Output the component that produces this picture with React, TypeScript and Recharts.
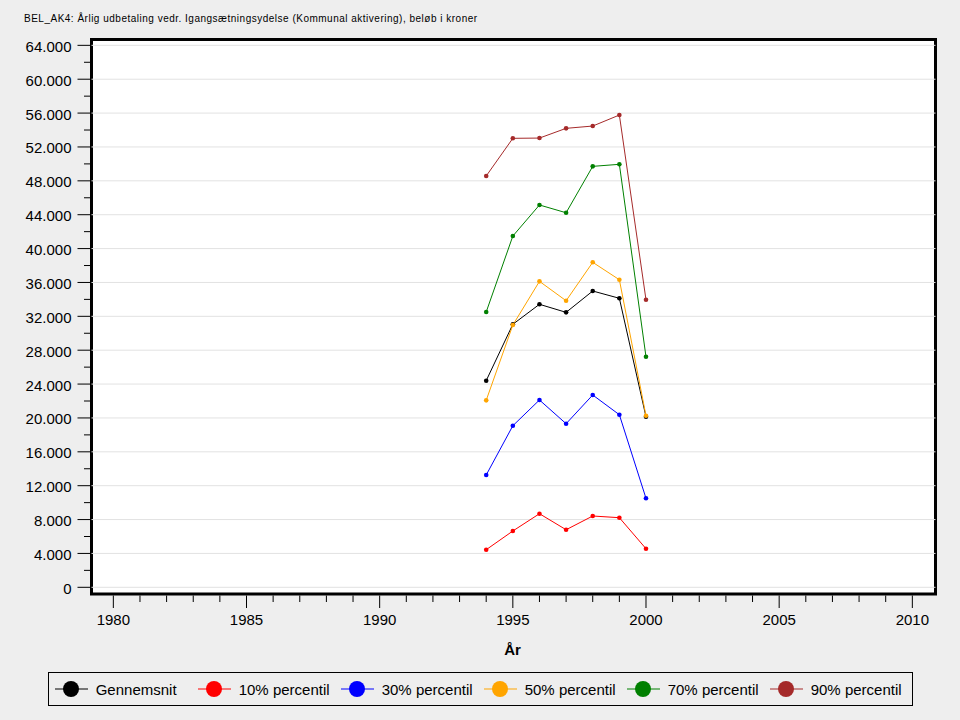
import React from 'react';
import { LineChart, Line, XAxis, YAxis, ReferenceLine, ReferenceArea, Legend } from 'recharts';

const title = 'BEL_AK4: Årlig udbetaling vedr. Igangsætningsydelse (Kommunal aktivering), beløb i kroner';
const xLabel = 'År';

const years = [1994, 1995, 1996, 1997, 1998, 1999, 2000];
const gennemsnit = [24400, 31060, 33420, 32470, 34990, 34130, 20140];
const p10 = [4440, 6650, 8690, 6800, 8420, 8220, 4560];
const p30 = [13260, 19080, 22120, 19320, 22710, 20380, 10510];
const p50 = [22080, 30970, 36130, 33840, 38380, 36320, 20260];
const p70 = [32510, 41480, 45150, 44230, 49710, 49950, 27230];
const p90 = [48570, 53020, 53050, 54200, 54470, 55770, 33960];

const xTicks = [1980, 1981, 1982, 1983, 1984, 1985, 1986, 1987, 1988, 1989, 1990, 1991, 1992, 1993, 1994, 1995, 1996, 1997, 1998, 1999, 2000, 2001, 2002, 2003, 2004, 2005, 2006, 2007, 2008, 2009, 2010];
const xMajor = [1980, 1985, 1990, 1995, 2000, 2005, 2010];
const yTicks = [0, 2000, 4000, 6000, 8000, 10000, 12000, 14000, 16000, 18000, 20000, 22000, 24000, 26000, 28000, 30000, 32000, 34000, 36000, 38000, 40000, 42000, 44000, 46000, 48000, 50000, 52000, 54000, 56000, 58000, 60000, 62000, 64000];
const yMajor = [0, 4000, 8000, 12000, 16000, 20000, 24000, 28000, 32000, 36000, 40000, 44000, 48000, 52000, 56000, 60000, 64000];

const seriesNames = ['Gennemsnit', '10% percentil', '30% percentil', '50% percentil', '70% percentil', '90% percentil'];
const seriesKeys = ['mean', 'p10', 'p30', 'p50', 'p70', 'p90'];
const seriesColors = ['#000000', '#ff0000', '#0000ff', '#ffa500', '#008000', '#a52a2a'];
const seriesValues = [gennemsnit, p10, p30, p50, p70, p90];

const rows = years.map((year, i) => {
  const r: Record<string, number> = { year };
  seriesKeys.forEach((k, j) => {
    r[k] = seriesValues[j][i];
  });
  return r;
});

const FONT = '"Liberation Sans", Arial, sans-serif';

const fmt = (v: number) => String(v).replace(/\B(?=(\d{3})+(?!\d))/g, '.');

const XTick = (props: any) => {
  const { x, y, payload } = props;
  const v = payload.value;
  const major = xMajor.includes(v);
  return (
    <g>
      <line x1={x} x2={x} y1={y + 1.5} y2={y + (major ? 14 : 8)} stroke="#000" strokeWidth={1} />
      {major && (
        <text x={x} y={y + 31} textAnchor="middle" fontFamily={FONT} fontSize={15} fill="#000">
          {v}
        </text>
      )}
    </g>
  );
};

const YTick = (props: any) => {
  const { x, y, payload } = props;
  const v = payload.value;
  const major = yMajor.includes(v);
  return (
    <g>
      <line x1={x - 1.5} x2={x - (major ? 14 : 7.5)} y1={y} y2={y} stroke="#000" strokeWidth={1} />
      {major && (
        <text x={x - 20} y={y + 6.5} textAnchor="end" fontFamily={FONT} fontSize={15} fill="#000">
          {fmt(v)}
        </text>
      )}
    </g>
  );
};

const renderLegend = (props: any) => {
  const payload = [...(props.payload || [])].sort(
    (a: any, b: any) => seriesNames.indexOf(a.value) - seriesNames.indexOf(b.value)
  );
  return (
    <div
      style={{
        boxSizing: 'border-box',
        width: 865,
        height: 34,
        border: '1px solid #000',
        display: 'flex',
        alignItems: 'center',
        paddingLeft: 6.5,
        fontFamily: FONT,
        fontSize: 15,
        color: '#000',
        background: '#eeeeee',
      }}
    >
      {payload.map((p: any) => (
        <div key={p.value} style={{ width: 143, flex: '0 0 143px', display: 'flex', alignItems: 'center' }}>
          <svg width={33} height={18} style={{ display: 'block' }}>
            <line x1={0} x2={33} y1={9} y2={9} stroke={p.color} strokeWidth={1} />
            <circle cx={16} cy={9} r={8} fill={p.color} />
          </svg>
          <span style={{ marginLeft: 7.7, whiteSpace: 'nowrap' }}>{p.value}</span>
        </div>
      ))}
    </div>
  );
};

const XLabel = (props: any) => {
  const vb = props.viewBox || {};
  return (
    <text
      x={vb.x + vb.width / 2 - 1}
      y={vb.y + 61}
      textAnchor="middle"
      fontFamily={FONT}
      fontSize={15}
      fontWeight="bold"
      fill="#000"
    >
      {xLabel}
    </text>
  );
};

export default function App() {
  return (
    <div style={{ position: 'absolute', left: 0, top: 0, width: 960, height: 720, background: '#eeeeee', overflow: 'hidden' }}>
      <style>{'body{margin:0;background:#eeeeee;}'}</style>
      <div
        style={{
          position: 'absolute',
          left: 24,
          top: 13,
          fontFamily: FONT,
          fontSize: 10,
          letterSpacing: '0.5px',
          color: '#000',
          whiteSpace: 'nowrap',
          lineHeight: '12px',
          zIndex: 2,
        }}
      >
        {title}
      </div>
      <LineChart
        width={960}
        height={720}
        data={rows}
        margin={{ top: 39.5, right: 24.5, bottom: 0, left: 0 }}
      >
        <ReferenceArea
          x1={1979.18}
          x2={2010.87}
          y1={-790}
          y2={64690}
          fill="#ffffff"
          fillOpacity={1}
          stroke="none"
          ifOverflow="visible"
        />
        {yMajor.map((v) => (
          <ReferenceLine key={v} y={v} stroke="#e2e2e2" strokeWidth={1} ifOverflow="visible" />
        ))}
        <XAxis
          dataKey="year"
          type="number"
          domain={[1979.18, 2010.87]}
          ticks={xTicks}
          interval={0}
          allowDataOverflow
          tick={XTick}
          tickLine={false}
          axisLine={false}
          tickSize={0}
          tickMargin={0}
          height={126}
          label={<XLabel />}
        />
        <YAxis
          type="number"
          domain={[-790, 64690]}
          ticks={yTicks}
          interval={0}
          allowDataOverflow
          tick={YTick}
          tickLine={false}
          axisLine={false}
          tickSize={0}
          tickMargin={0}
          width={91.5}
        />
        {seriesKeys.map((k, j) => (
          <Line
            key={k}
            dataKey={k}
            name={seriesNames[j]}
            stroke={seriesColors[j]}
            strokeWidth={1}
            dot={{ r: 2.3, fill: seriesColors[j], stroke: 'none' }}
            activeDot={false}
            isAnimationActive={false}
            type="linear"
          />
        ))}
        <ReferenceArea
          x1={1979.18}
          x2={2010.87}
          y1={-790}
          y2={64690}
          fill="none"
          stroke="#000"
          strokeWidth={3}
          ifOverflow="visible"
        />
        <Legend
          layout="horizontal"
          verticalAlign="middle"
          align="center"
          content={renderLegend}
          wrapperStyle={{ position: 'absolute', left: 47.5, top: 672, width: 865, height: 34 }}
        />
      </LineChart>
    </div>
  );
}
